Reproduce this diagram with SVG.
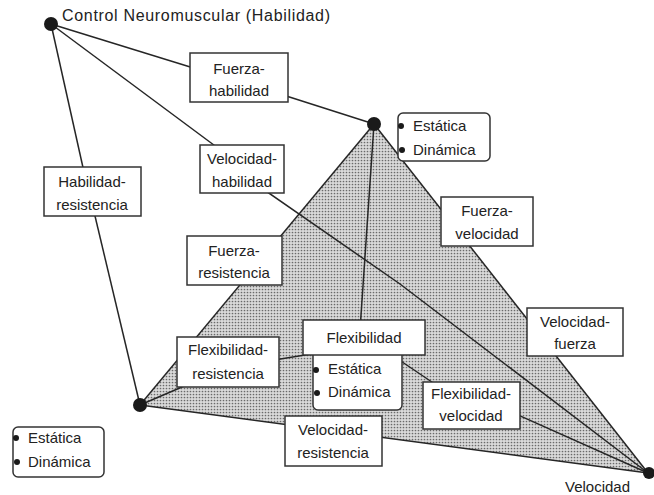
<svg xmlns="http://www.w3.org/2000/svg" width="654" height="495" viewBox="0 0 654 495">
<defs>
<pattern id="dots" width="3" height="3" patternUnits="userSpaceOnUse">
<rect width="3" height="3" fill="#dadada"/>
<circle cx="1.5" cy="1.5" r="0.85" fill="#6a6a6a"/>
</pattern>
</defs>
<style>
text{font-family:"Liberation Sans",Arial,sans-serif;font-size:15px;fill:#222}
.lbl{text-anchor:middle}
.box{fill:#fff;stroke:#333;stroke-width:1.5}
.rbox{fill:#fff;stroke:#333;stroke-width:1.5}
.ln{fill:none;stroke:#262626;stroke-width:1.5}
.dot{fill:#1a1a1a}
.bul{fill:#1a1a1a}
</style>
<rect width="654" height="495" fill="#fff"/>
<polygon points="374,124 140,405 648,473" fill="url(#dots)"/>
<g id="connectors">
<line class="ln" x1="51" y1="24" x2="200" y2="70"/>
<line class="ln" x1="280" y1="94" x2="374" y2="124"/>
<line class="ln" x1="51" y1="24" x2="88" y2="190"/>
<line class="ln" x1="90" y1="195" x2="140" y2="405"/>
<line class="ln" x1="51" y1="24" x2="230" y2="157"/>
<polyline class="ln" points="250,180 400,284 648,473"/>
<line class="ln" x1="374" y1="124" x2="140" y2="405"/>
<line class="ln" x1="374" y1="124" x2="648" y2="473"/>
<line class="ln" x1="140" y1="405" x2="648" y2="473"/>
<line class="ln" x1="374" y1="124" x2="360" y2="330"/>
<line class="ln" x1="140" y1="405" x2="210" y2="375"/>
<line class="ln" x1="250" y1="364" x2="330" y2="351"/>
<line class="ln" x1="380" y1="347" x2="460" y2="401"/>
<line class="ln" x1="480" y1="398" x2="648" y2="473"/>
</g>
<g id="node-control">
<circle class="dot" cx="51" cy="24" r="7"/>
<text x="62" y="21" textLength="268" style="font-size:16px">Control Neuromuscular (Habilidad)</text>
</g>
<g id="node-fuerza">
<circle class="dot" cx="374" cy="124" r="7"/>
<rect class="rbox" x="398" y="113" width="92" height="48" rx="5"/>
<circle class="bul" cx="401" cy="126" r="3"/>
<circle class="bul" cx="402" cy="150" r="3"/>
<text x="413" y="131">Estática</text>
<text x="413" y="155">Dinámica</text>
</g>
<g id="node-resistencia">
<circle class="dot" cx="140" cy="405" r="7"/>
<rect class="rbox" x="13" y="427" width="91" height="50" rx="5"/>
<circle class="bul" cx="16" cy="438" r="3"/>
<circle class="bul" cx="17" cy="462" r="3"/>
<text x="28" y="443">Estática</text>
<text x="28" y="467">Dinámica</text>
</g>
<g id="node-velocidad">
<circle class="dot" cx="649" cy="473" r="6"/>
<text x="565" y="492">Velocidad</text>
</g>
<g id="node-flexibilidad">
<rect class="rbox" x="313" y="345" width="89" height="65" rx="5"/>
<circle class="bul" cx="316" cy="370" r="3"/>
<circle class="bul" cx="317" cy="393" r="3"/>
<text x="328" y="374">Estática</text>
<text x="328" y="397">Dinámica</text>
<rect class="box" x="303" y="320" width="122" height="35"/>
<text class="lbl" x="364" y="343">Flexibilidad</text>
</g>
<g id="label-fuerza-habilidad">
<rect class="box" x="190" y="53" width="98" height="49"/>
<text class="lbl" x="239" y="74">Fuerza-</text>
<text class="lbl" x="239" y="96">habilidad</text>
</g>
<g id="label-velocidad-habilidad">
<rect class="box" x="200" y="145" width="84" height="48"/>
<text class="lbl" x="242" y="164">Velocidad-</text>
<text class="lbl" x="242" y="187">habilidad</text>
</g>
<g id="label-habilidad-resistencia">
<rect class="box" x="44" y="167" width="97" height="49"/>
<text class="lbl" x="92" y="187">Habilidad-</text>
<text class="lbl" x="92" y="210">resistencia</text>
</g>
<g id="label-fuerza-resistencia">
<rect class="box" x="187" y="236" width="95" height="49"/>
<text class="lbl" x="234" y="256">Fuerza-</text>
<text class="lbl" x="234" y="278">resistencia</text>
</g>
<g id="label-fuerza-velocidad">
<rect class="box" x="441" y="197" width="92" height="49"/>
<text class="lbl" x="487" y="216">Fuerza-</text>
<text class="lbl" x="487" y="239">velocidad</text>
</g>
<g id="label-velocidad-fuerza">
<rect class="box" x="527" y="308" width="96" height="48"/>
<text class="lbl" x="575" y="327">Velocidad-</text>
<text class="lbl" x="575" y="349">fuerza</text>
</g>
<g id="label-flexibilidad-resistencia">
<rect class="box" x="177" y="337" width="102" height="50"/>
<text class="lbl" x="228" y="355">Flexibilidad-</text>
<text class="lbl" x="228" y="379">resistencia</text>
</g>
<g id="label-flexibilidad-velocidad">
<rect class="box" x="423" y="382" width="97" height="47"/>
<text class="lbl" x="471" y="399">Flexibilidad-</text>
<text class="lbl" x="471" y="421">velocidad</text>
</g>
<g id="label-velocidad-resistencia">
<rect class="box" x="285" y="416" width="97" height="50"/>
<text class="lbl" x="333" y="435">Velocidad-</text>
<text class="lbl" x="333" y="458">resistencia</text>
</g>
</svg>
